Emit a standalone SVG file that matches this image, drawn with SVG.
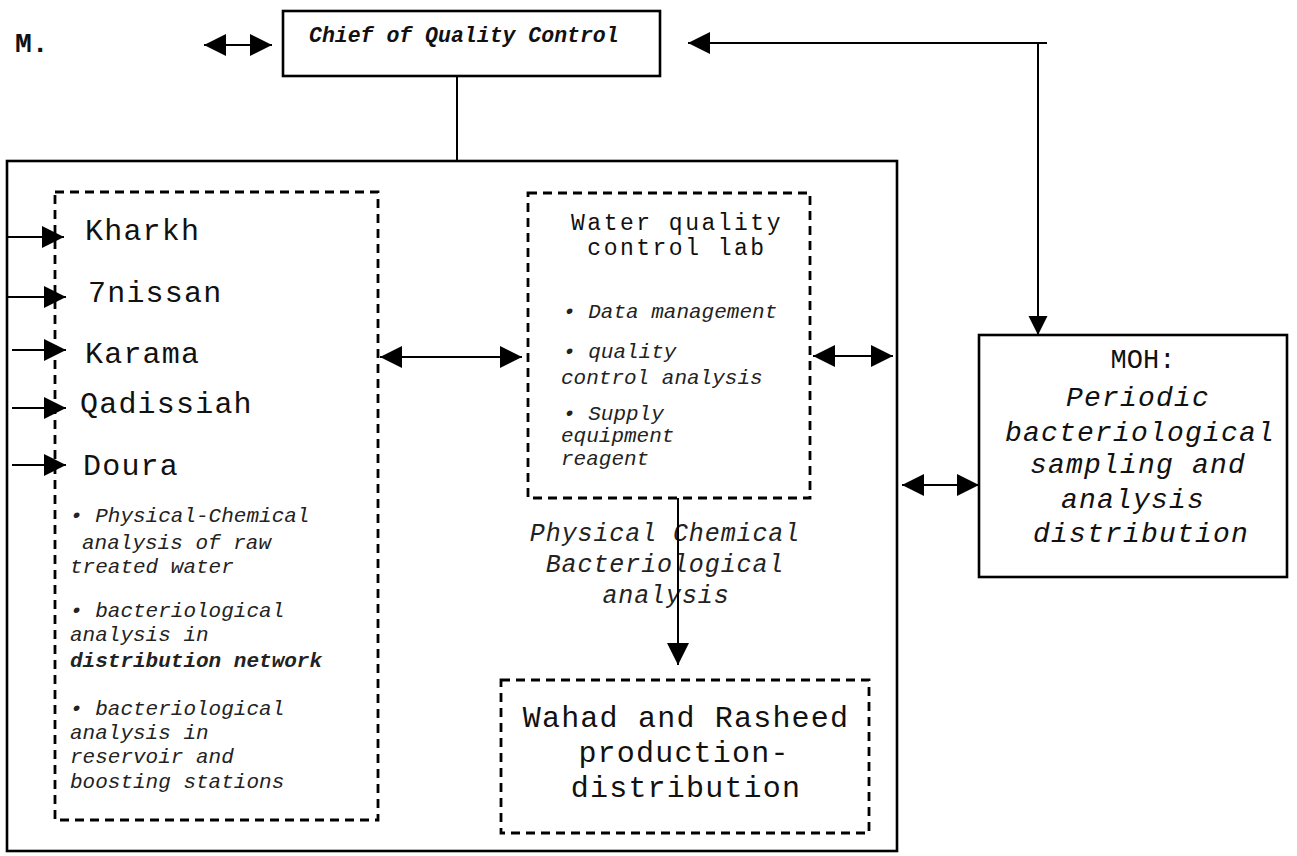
<svg xmlns="http://www.w3.org/2000/svg" width="1297" height="856" viewBox="0 0 1297 856">
  <defs>
    <style>
      .box { fill: none; stroke: #000; stroke-width: 2.6; }
      .dash { fill: none; stroke: #000; stroke-width: 2.8; stroke-dasharray: 9 6; }
      .wire { fill: none; stroke: #000; stroke-width: 2; }
      .mono { font-family: "Liberation Mono", "Courier New", monospace; fill: #111; }
      .name { font-size: 30px; letter-spacing: 1.2px; }
      .note { font-size: 21px; font-style: italic; fill: #222; }
      .lab { font-size: 23px; letter-spacing: 2.5px; }
      .flow { font-size: 25px; font-style: italic; fill: #222; letter-spacing: 0.9px; }
      .moh { font-size: 28px; font-style: italic; letter-spacing: 1.2px; }
    </style>
    <marker id="ah" viewBox="0 0 10 10" refX="10" refY="5" markerWidth="22" markerHeight="22" markerUnits="userSpaceOnUse" orient="auto-start-reverse">
      <path d="M0,0 L10,5 L0,10 z" fill="#000"/>
    </marker>
    <marker id="ahs" viewBox="0 0 10 10" refX="10" refY="5" markerWidth="19" markerHeight="21" markerUnits="userSpaceOnUse" orient="auto-start-reverse">
      <path d="M0,0 L10,5 L0,10 z" fill="#000"/>
    </marker>
  </defs>

  <rect width="1297" height="856" fill="#fff"/>

  <!-- header label -->
  <g id="label-m">
    <text class="mono" x="15" y="52" font-size="28" font-weight="bold">M.</text>
  </g>

  <!-- top node -->
  <g id="chief">
    <rect class="box" x="283" y="11" width="377" height="65"/>
    <text class="mono" x="309" y="42" font-size="21.5" font-weight="bold" font-style="italic">Chief of Quality Control</text>
  </g>

  <!-- department frame -->
  <g id="department">
    <rect class="box" x="7" y="161" width="890" height="690"/>
  </g>

  <!-- plants and field analyses -->
  <g id="plants">
    <rect class="dash" x="55" y="192" width="323" height="628"/>
    <text class="mono name" x="85" y="240">Kharkh</text>
    <text class="mono name" x="88" y="302">7nissan</text>
    <text class="mono name" x="85" y="363">Karama</text>
    <text class="mono name" x="80" y="413">Qadissiah</text>
    <text class="mono name" x="83" y="475">Doura</text>
    <text class="mono note" x="70" y="522">• Physical-Chemical</text>
    <text class="mono note" x="82" y="549">analysis of raw</text>
    <text class="mono note" x="70" y="573">treated water</text>
    <text class="mono note" x="70" y="617">• bacteriological</text>
    <text class="mono note" x="70" y="641">analysis in</text>
    <text class="mono note" x="70" y="667" font-weight="bold">distribution network</text>
    <text class="mono note" x="70" y="715">• bacteriological</text>
    <text class="mono note" x="70" y="739">analysis in</text>
    <text class="mono note" x="70" y="763">reservoir and</text>
    <text class="mono note" x="70" y="788">boosting stations</text>
  </g>

  <!-- central laboratory -->
  <g id="lab">
    <rect class="dash" x="528" y="193" width="282" height="305"/>
    <text class="mono lab" x="677" y="230" text-anchor="middle">Water quality</text>
    <text class="mono lab" x="677" y="255" text-anchor="middle">control lab</text>
    <text class="mono note" x="563" y="318">• Data management</text>
    <text class="mono note" x="563" y="358">• quality</text>
    <text class="mono note" x="561" y="384">control analysis</text>
    <text class="mono note" x="563" y="420">• Supply</text>
    <text class="mono note" x="561" y="442">equipment</text>
    <text class="mono note" x="561" y="465">reagent</text>
  </g>

  <!-- flow label -->
  <g id="flow-label">
    <text class="mono flow" x="665" y="541" text-anchor="middle">Physical Chemical</text>
    <text class="mono flow" x="665" y="572" text-anchor="middle">Bacteriological</text>
    <text class="mono flow" x="666" y="603" text-anchor="middle">analysis</text>
  </g>

  <!-- production and distribution -->
  <g id="wahad">
    <rect class="dash" x="501" y="680" width="368" height="153"/>
    <text class="mono name" x="686" y="727" text-anchor="middle">Wahad and Rasheed</text>
    <text class="mono name" x="684" y="762" text-anchor="middle">production-</text>
    <text class="mono name" x="686" y="797" text-anchor="middle">distribution</text>
  </g>

  <!-- ministry of health -->
  <g id="moh">
    <rect class="box" x="979" y="335" width="308" height="242"/>
    <text class="mono" x="1143" y="368" font-size="27" text-anchor="middle">MOH:</text>
    <text class="mono moh" x="1138" y="406" text-anchor="middle">Periodic</text>
    <text class="mono moh" x="1140" y="441" text-anchor="middle">bacteriological</text>
    <text class="mono moh" x="1138" y="473" text-anchor="middle">sampling and</text>
    <text class="mono moh" x="1133" y="508" text-anchor="middle">analysis</text>
    <text class="mono moh" x="1141" y="542" text-anchor="middle">distribution</text>
  </g>

  <!-- connectors -->
  <g id="connectors">
    <line class="wire" x1="204" y1="45" x2="272" y2="45" marker-start="url(#ah)" marker-end="url(#ah)"/>
    <line class="wire" x1="457" y1="76" x2="457" y2="161"/>
    <line class="wire" x1="1047" y1="43" x2="688" y2="43" marker-end="url(#ah)"/>
    <line class="wire" x1="1038" y1="43" x2="1038" y2="335" marker-end="url(#ahs)"/>

    <line class="wire" x1="8" y1="237" x2="64" y2="237" marker-end="url(#ah)"/>
    <line class="wire" x1="8" y1="297" x2="66" y2="297" marker-end="url(#ah)"/>
    <line class="wire" x1="12" y1="350" x2="66" y2="350" marker-end="url(#ah)"/>
    <line class="wire" x1="12" y1="408" x2="66" y2="408" marker-end="url(#ah)"/>
    <line class="wire" x1="12" y1="465" x2="66" y2="465" marker-end="url(#ah)"/>

    <line class="wire" x1="380" y1="357" x2="522" y2="357" marker-start="url(#ah)" marker-end="url(#ah)"/>
    <line class="wire" x1="813" y1="356" x2="893" y2="356" marker-start="url(#ah)" marker-end="url(#ah)"/>
    <line class="wire" x1="902" y1="485" x2="979" y2="485" marker-start="url(#ah)" marker-end="url(#ah)"/>

    <line class="wire" x1="678" y1="498" x2="678" y2="665" marker-end="url(#ah)"/>
  </g>
</svg>
